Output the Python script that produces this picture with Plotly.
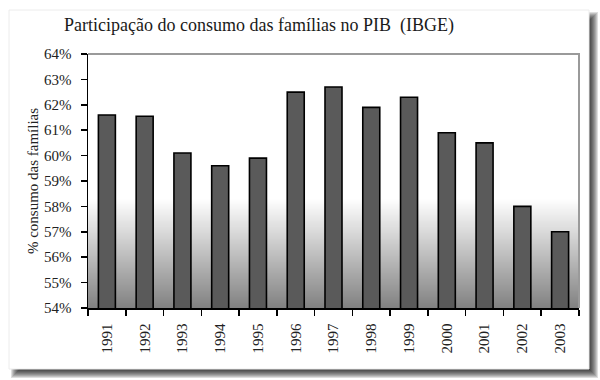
import base64, struct, zlib
import plotly.graph_objects as go

# ---- data ----
years = ["1991", "1992", "1993", "1994", "1995", "1996", "1997",
         "1998", "1999", "2000", "2001", "2002", "2003"]
consumo = [61.6, 61.55, 60.1, 59.6, 59.9, 62.5, 62.7,
           61.9, 62.3, 60.9, 60.5, 58.0, 57.0]
y_min, y_max = 54, 64

# ---- layout geometry (pixels) ----
W, H = 600, 380
ML, MR, MT, MB = 88, 21, 54, 72
PW, PH = W - ML - MR, H - MT - MB


def px(x):
    return (x - ML) / PW


def py(y):
    return (H - MB - y) / PH


# ---- vertical gradient image (pure python PNG) ----
def gray_png(vals, w=2):
    raw = b"".join(b"\x00" + bytes([v]) * w for v in vals)

    def chunk(tag, data):
        return (struct.pack(">I", len(data)) + tag + data +
                struct.pack(">I", zlib.crc32(tag + data) & 0xFFFFFFFF))

    ihdr = struct.pack(">IIBBBBB", w, len(vals), 8, 0, 0, 0, 0)
    png = (b"\x89PNG\r\n\x1a\n" + chunk(b"IHDR", ihdr) +
           chunk(b"IDAT", zlib.compress(raw)) + chunk(b"IEND", b""))
    return "data:image/png;base64," + base64.b64encode(png).decode()


n = 128
grad = [int(round(255 - 125 * i / (n - 1))) for i in range(n)]
grad_src = gray_png(grad)

SERIF = "Liberation Serif, DejaVu Serif, serif"

fig = go.Figure()
fig.add_trace(go.Bar(
    x=years, y=consumo, width=0.45,
    marker=dict(color="#5a5a5a", line=dict(color="#000000", width=1.6)),
    hoverinfo="skip",
))

shapes = []
# drop shadow
for e in range(-4, 5):
    shapes.append(dict(
        type="rect", xref="paper", yref="paper", layer="below",
        x0=px(15 - e), x1=px(594 + e), y0=py(16 - e), y1=py(374 + e),
        fillcolor="rgba(0,0,0,0.13)", line=dict(width=0)))
# white card
shapes.append(dict(
    type="rect", xref="paper", yref="paper", layer="below",
    x0=px(9), x1=px(589), y0=py(10), y1=py(369),
    fillcolor="#ffffff", line=dict(color="#ececec", width=1)))
# plot area frame (top/right gray)
shapes.append(dict(
    type="path", xref="paper", yref="paper", layer="above",
    path="M0,1 L1,1 L1,0",
    line=dict(color="#9a9a9a", width=2)))

fig.update_layout(
    width=W, height=H,
    margin=dict(l=ML, r=MR, t=MT, b=MB),
    paper_bgcolor="#ffffff",
    plot_bgcolor="#ffffff",
    showlegend=False,
    font=dict(family=SERIF, size=15, color="#222222"),
    title=dict(text="Participação do consumo das famílias no PIB  (IBGE)",
               x=259 / W, xanchor="center", y=1 - 25 / H, yanchor="middle",
               font=dict(family=SERIF, size=18, color="#1a1a1a")),
    shapes=shapes,
    images=[dict(source=grad_src, xref="x", yref="y",
                 x=-0.5, y=58.3, sizex=len(years), sizey=4.3,
                 sizing="stretch", layer="below",
                 xanchor="left", yanchor="top")],
    # overlay axes that only draw the inward half of the crossing ticks
    xaxis2=dict(overlaying="x", anchor="y", side="bottom",
                range=[-0.5, len(years) - 0.5], tick0=-0.5, dtick=1,
                ticks="inside", ticklen=5, tickwidth=1.5, tickcolor="#000000",
                showticklabels=False, showgrid=False, zeroline=False,
                showline=False, fixedrange=True),
    yaxis2=dict(overlaying="y", anchor="x", side="left",
                range=[y_min, y_max], tick0=y_min, dtick=1,
                ticks="inside", ticklen=5, tickwidth=1.5, tickcolor="#000000",
                showticklabels=False, showgrid=False, zeroline=False,
                showline=False, fixedrange=True),
)
fig.layout.yaxis.update(
    range=[y_min, y_max], tick0=y_min, dtick=1, ticksuffix="%",
    showgrid=False, zeroline=False,
    showline=True, linecolor="#000000", linewidth=1.5,
    ticks="outside", ticklen=6, tickwidth=1.5, tickcolor="#000000",
    ticklabelstandoff=6,
    tickfont=dict(family=SERIF, size=15),
    title=dict(text="% consumo das famílias", standoff=2,
               font=dict(family=SERIF, size=15)),
)
fig.layout.xaxis.update(
    type="category", tickangle=-90, tickson="boundaries",
    showgrid=False, showline=True, linecolor="#000000", linewidth=1.5,
    ticks="outside", ticklen=6, tickwidth=1.5, tickcolor="#000000",
    ticklabelstandoff=8,
    tickfont=dict(family=SERIF, size=15),
)

fig.write_html(
    "out.html",
    config=dict(displayModeBar=False, staticPlot=True),
    post_script="document.body.style.margin='0px';"
                "document.body.style.overflow='hidden';",
)
